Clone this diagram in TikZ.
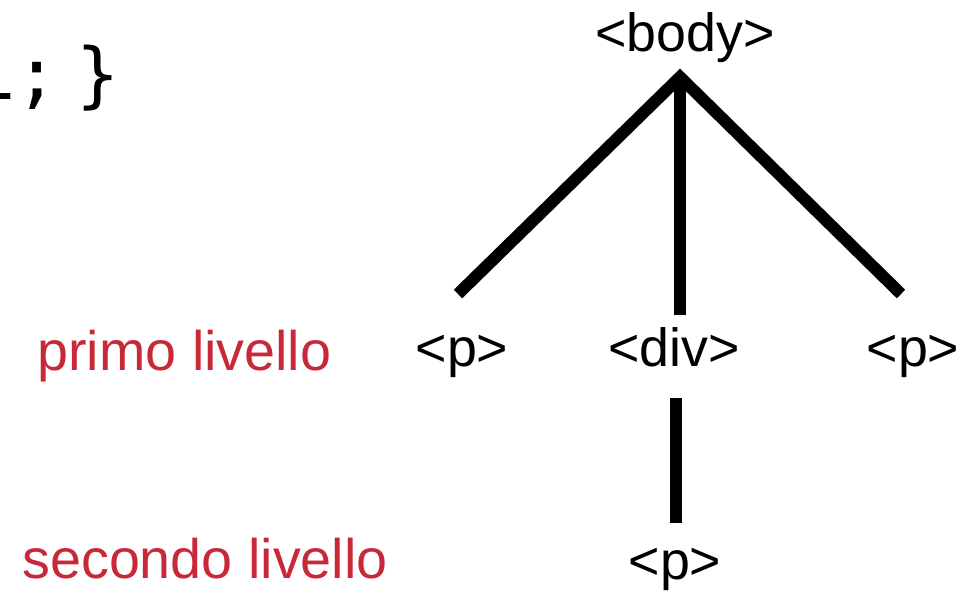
\documentclass[tikz,border=0pt]{standalone}
\usepackage{fontspec}
\setmainfont{Liberation Sans}
\setmonofont{DejaVu Sans Mono}
\definecolor{levelred}{RGB}{200,40,55}

\begin{document}
\begin{tikzpicture}[x=0.02cm, y=-0.02cm,
        tag/.style={inner sep=0pt, anchor=base, font=\fontsize{30.6}{36}\selectfont},
        level/.style={inner sep=0pt, anchor=base west, text=levelred, font=\fontsize{31.7}{38}\selectfont},
        edge/.style={line width=0.24cm, line join=miter}]
        \useasboundingbox (0,0) rectangle (972,591);
        \node[inner sep=0pt, anchor=base west, font=\ttfamily\fontsize{40.8}{48}\selectfont] (code) at (-28,100) {1;\kern0.36cm\}};
        \node[tag] (body) at (685,52) {<body>};
        \node[tag] (p1) at (462,366) {<p>};
        \node[tag] (div) at (674,366) {<div>};
        \node[tag] (p2) at (913,366) {<p>};
        \node[tag] (p3) at (675,579) {<p>};
        \node[level] (primo) at (37,370) {primo livello};
        \node[level] (secondo) at (22,578) {secondo livello};
        \draw[edge] ([shift={(-4,-72)}]p1.base) -- ([shift={(-5,25)}]body.base) -- ([shift={(-12,-72)}]p2.base);
        \draw[edge] ([shift={(-5,25)}]body.base) -- ([shift={(6,-51)}]div.base);
        \draw[edge] ([shift={(2,32)}]div.base) -- ([shift={(1,-56)}]p3.base);
    \end{tikzpicture}
\end{document}
